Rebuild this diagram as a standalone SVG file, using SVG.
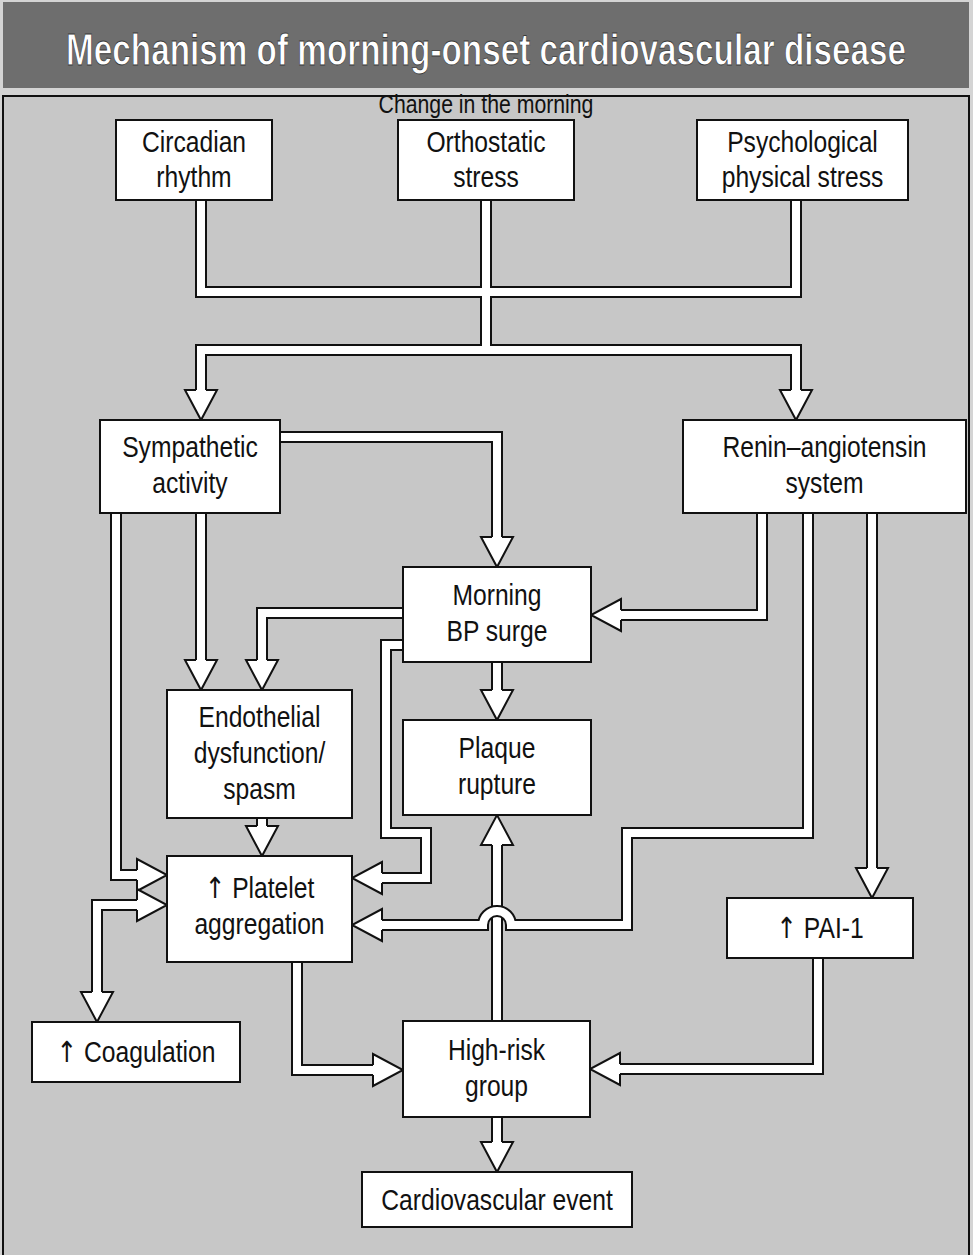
<svg xmlns="http://www.w3.org/2000/svg" xmlns:xlink="http://www.w3.org/1999/xlink" width="973" height="1255" viewBox="0 0 973 1255">
<style>
.t{font-family:"Liberation Sans",Arial,sans-serif;font-size:29px;text-anchor:middle;fill:#111}
.up{font-family:"DejaVu Sans",sans-serif;fill:#111}
.box{fill:#fff;stroke:#111;stroke-width:2}
.pb{fill:none;stroke:#111;stroke-width:12;stroke-linejoin:miter}
.pw{fill:none;stroke:#fff;stroke-width:8;stroke-linejoin:miter}
.ah{fill:#fff;stroke:#111;stroke-width:2;stroke-linejoin:miter}
</style>
<defs>
<path id="ah" class="ah" d="M-5 -30 L-16 -30 L0 0 L16 -30 L5 -30"/>
</defs>
<rect x="0" y="0" width="973" height="1255" fill="#d4d4d4"/>
<rect x="3" y="2" width="966" height="86" fill="#6e6e6e"/>
<g transform="matrix(0.74 0 0 1 126.4 0)"><text x="486" y="65" style="font-family:'Liberation Sans',Arial,sans-serif;font-weight:bold;font-size:45px;text-anchor:middle;fill:#fff;stroke:#3a3a3a;stroke-width:0.8">Mechanism of morning-onset cardiovascular disease</text></g>
<rect x="3" y="96" width="966" height="1170" fill="#c7c7c7" stroke="#111" stroke-width="2"/>
<g transform="matrix(0.85 0 0 1 72.9 0)"><text class="t" x="486" y="113" style="font-size:25px">Change in the morning</text></g>

<g id="connectors">
<g id="pipes">
<path class="pb" d="M201 200 V292 H486 M796 200 V292 H486 M486 200 V350 M486 350 H201 V391 M486 350 H796 V391 M280 437 H497 V538 M116 513 V875 H138 M201 513 V661 M403 613 H262 V661 M262 818 V827 M403 645 H386 V833 H426 V878 H381 M497 662 V691 M497 1021 V844 M297 962 V1070 H374 M138 905 H97 V993 M762 513 V615 H620 M872 513 V869 M818 958 V1069 H619 M497 1117 V1143"/>
<path class="pw" d="M201 200 V292 H486 M796 200 V292 H486 M486 200 V350 M486 350 H201 V391 M486 350 H796 V391 M280 437 H497 V538 M116 513 V875 H138 M201 513 V661 M403 613 H262 V661 M262 818 V827 M403 645 H386 V833 H426 V878 H381 M497 662 V691 M497 1021 V844 M297 962 V1070 H374 M138 905 H97 V993 M762 513 V615 H620 M872 513 V869 M818 958 V1069 H619 M497 1117 V1143"/>
</g>
<g id="arrowheads">
<use xlink:href="#ah" transform="translate(201,420)"/>
<use xlink:href="#ah" transform="translate(796,420)"/>
<use xlink:href="#ah" transform="translate(497,567)"/>
<use xlink:href="#ah" transform="translate(201,690)"/>
<use xlink:href="#ah" transform="translate(262,690)"/>
<use xlink:href="#ah" transform="translate(262,856)"/>
<use xlink:href="#ah" transform="translate(497,720)"/>
<use xlink:href="#ah" transform="translate(872,898)"/>
<use xlink:href="#ah" transform="translate(497,1172)"/>
<use xlink:href="#ah" transform="translate(97,1022)"/>
<use xlink:href="#ah" transform="translate(167,875) rotate(-90)"/>
<use xlink:href="#ah" transform="translate(167,905) rotate(-90)"/>
<use xlink:href="#ah" transform="translate(403,1070) rotate(-90)"/>
<use xlink:href="#ah" transform="translate(591,615) rotate(90)"/>
<use xlink:href="#ah" transform="translate(352,878) rotate(90)"/>
<use xlink:href="#ah" transform="translate(590,1069) rotate(90)"/>
<use xlink:href="#ah" transform="translate(497,815) rotate(180)"/>
</g>
<g id="hop-pipe">
<path class="pb" d="M808 513 V833 H627 V925 H511 A14 14 0 0 0 483 925 H381"/>
<path class="pw" d="M808 513 V833 H627 V925 H511 A14 14 0 0 0 483 925 H381"/>
<use xlink:href="#ah" transform="translate(352,925) rotate(90)"/>
</g>
</g>

<g id="circadian"><rect class="box" x="116" y="120" width="156" height="80"/><g transform="matrix(0.85 0 0 1 29.1 0)"><text class="t" x="194" y="152">Circadian</text><text class="t" x="194" y="187">rhythm</text></g></g>
<g id="orthostatic"><rect class="box" x="398" y="120" width="176" height="80"/><g transform="matrix(0.85 0 0 1 72.9 0)"><text class="t" x="486" y="152">Orthostatic</text><text class="t" x="486" y="187">stress</text></g></g>
<g id="psych"><rect class="box" x="697" y="120" width="211" height="80"/><g transform="matrix(0.85 0 0 1 120.375 0)"><text class="t" x="802.5" y="152">Psychological</text><text class="t" x="802.5" y="187">physical stress</text></g></g>
<g id="sympathetic"><rect class="box" x="100" y="420" width="180" height="93"/><g transform="matrix(0.85 0 0 1 28.5 0)"><text class="t" x="190" y="457">Sympathetic</text><text class="t" x="190" y="493">activity</text></g></g>
<g id="renin"><rect class="box" x="683" y="420" width="283" height="93"/><g transform="matrix(0.85 0 0 1 123.675 0)"><text class="t" x="824.5" y="457">Renin–angiotensin</text><text class="t" x="824.5" y="493">system</text></g></g>
<g id="morning"><rect class="box" x="403" y="567" width="188" height="95"/><g transform="matrix(0.85 0 0 1 74.55 0)"><text class="t" x="497" y="605">Morning</text><text class="t" x="497" y="641">BP surge</text></g></g>
<g id="endothelial"><rect class="box" x="167" y="690" width="185" height="128"/><g transform="matrix(0.85 0 0 1 38.925 0)"><text class="t" x="259.5" y="727">Endothelial</text><text class="t" x="259.5" y="763">dysfunction/</text><text class="t" x="259.5" y="799">spasm</text></g></g>
<g id="plaque"><rect class="box" x="403" y="720" width="188" height="95"/><g transform="matrix(0.85 0 0 1 74.55 0)"><text class="t" x="497" y="758">Plaque</text><text class="t" x="497" y="794">rupture</text></g></g>
<g id="platelet"><rect class="box" x="167" y="856" width="185" height="106"/><g transform="matrix(0.85 0 0 1 38.925 0)"><text class="t" x="259.5" y="898"><tspan class="up">↑</tspan>  Platelet</text><text class="t" x="259.5" y="934">aggregation</text></g></g>
<g id="pai1"><rect class="box" x="727" y="898" width="186" height="60"/><g transform="matrix(0.85 0 0 1 123 0)"><text class="t" x="820" y="938"><tspan class="up">↑</tspan>  PAI-1</text></g></g>
<g id="coagulation"><rect class="box" x="32" y="1022" width="208" height="60"/><g transform="matrix(0.85 0 0 1 20.4 0)"><text class="t" x="136" y="1062"><tspan class="up">↑</tspan>  Coagulation</text></g></g>
<g id="highrisk"><rect class="box" x="403" y="1021" width="187" height="96"/><g transform="matrix(0.85 0 0 1 74.475 0)"><text class="t" x="496.5" y="1060">High-risk</text><text class="t" x="496.5" y="1096">group</text></g></g>
<g id="cvevent"><rect class="box" x="362" y="1172" width="270" height="55"/><g transform="matrix(0.85 0 0 1 74.55 0)"><text class="t" x="497" y="1210">Cardiovascular event</text></g></g>
</svg>
